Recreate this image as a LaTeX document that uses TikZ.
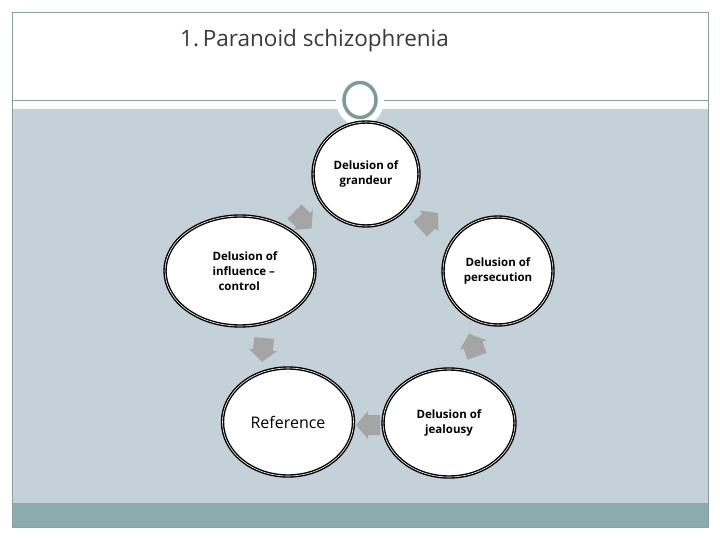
\documentclass[tikz,border=0pt]{standalone}
\usepackage{fontspec}
\setmainfont{Open Sans}
\usetikzlibrary{shapes.geometric}
\definecolor{bgblue}{HTML}{C5D1D8}
\definecolor{bandteal}{HTML}{8AACAD}
\definecolor{framegray}{HTML}{8C9C9C}
\definecolor{ringteal}{HTML}{7D9A9A}
\definecolor{arrowgray}{HTML}{A5A5A5}
\definecolor{titlegray}{HTML}{3A3A3A}
\tikzset{
  bubble/.style={ellipse, draw=black, line width=1.4pt, double=white, double distance=0.6pt,
    fill=white, inner sep=0pt, align=center, font=\bfseries\fontsize{11.5}{15}\selectfont},
  blockarrow/.pic={\fill[arrowgray] (-12,-10) -- (0,-10) -- (0,-14) -- (12,0) -- (0,14) -- (0,10) -- (-12,10) -- cycle;}
}
\begin{document}
\begin{tikzpicture}[x=1pt,y=-1pt]
\useasboundingbox (0,0) rectangle (720,540);
\fill[white] (0,0) rectangle (720,540);
% slide frame and bands
\fill[bgblue] (12,109) rectangle (708,503);
\fill[bandteal] (12,503) rectangle (708,527);
\draw[framegray, line width=0.8pt] (12,12) rectangle (708,527);
\draw[framegray, line width=0.8pt] (12,100) -- (708,100);
% ring
\fill[white] (360,100) ellipse (24 and 26);
\draw[ringteal, line width=3.5pt] (360,100) ellipse (16 and 17.5);
% title
\node[anchor=base west, text=titlegray, font=\fontsize{22.5}{26}\selectfont, inner sep=0pt] (title) at (180,47) {1.\,Paranoid schizophrenia};
% nodes
\node[bubble, minimum width=106pt, minimum height=104pt] (grand) at (366,174) {Delusion of\\grandeur};
\node[bubble, minimum width=110pt, minimum height=108pt] (pers) at (498,271) {Delusion of\\persecution};
\node[bubble, minimum width=132pt, minimum height=108pt] (jeal) at (449,423) {Delusion of\\jealousy};
\node[bubble, minimum width=131pt, minimum height=108pt, font=\fontsize{16}{18}\selectfont] (ref) at (288,422) {Reference};
\node[bubble, minimum width=150pt, minimum height=110pt, align=left] (infl) at (240,271) {\hspace*{10pt}Delusion of\\\hspace*{10pt}influence –\\\hspace*{16pt}control};
% block arrows
\pic[rotate=-45] at (303,220) {blockarrow};
\pic[rotate=42] at (429,221) {blockarrow};
\pic[rotate=110] at (473,345) {blockarrow};
\pic[rotate=180] at (368,425) {blockarrow};
\pic[rotate=-95] at (263,350) {blockarrow};
\end{tikzpicture}
\end{document}
